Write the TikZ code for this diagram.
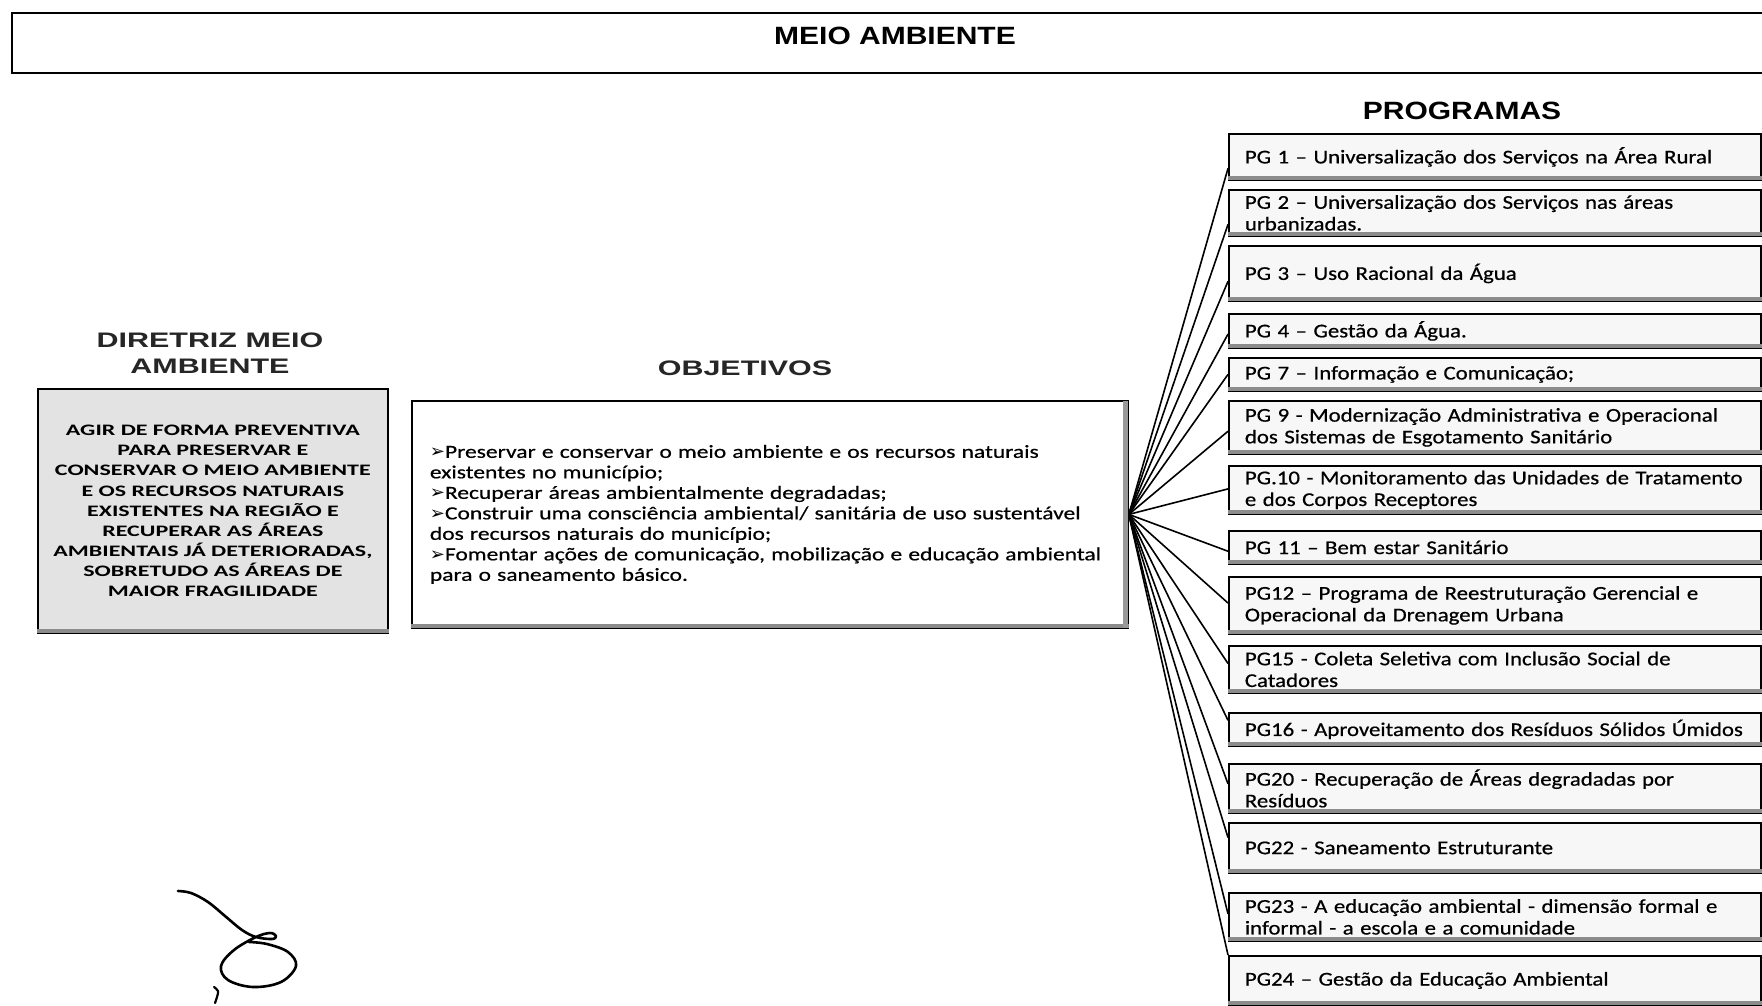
\documentclass[tikz,border=0pt]{standalone}
\usepackage{fontspec}
\usetikzlibrary{calc}
\setmainfont{Carlito}
\newfontfamily\pgfont[FakeStretch=1.17,FakeBold=0.6]{Carlito}
\newfontfamily\objfont[FakeStretch=1.27,FakeBold=0.6]{Carlito}
\newfontfamily\dirfont[FakeStretch=1.5]{Carlito}
\newfontfamily\headfont[FakeStretch=1.2]{Liberation Sans}
\newfontfamily\wideheadfont[FakeStretch=1.45]{Liberation Sans}
\newfontfamily\symfont{DejaVu Sans}
\newcommand{\bul}{{\symfont\fontsize{18pt}{18pt}\selectfont ➢}}
\begin{document}
\begin{tikzpicture}[x=1pt,y=-1pt,
  box/.style={draw=black, line width=1.8pt, rectangle, inner sep=0pt},
  pgbox/.style={box, fill=black!3, anchor=north west, text width=500pt, inner xsep=16pt, align=left,
    font=\pgfont\fontsize{19.5pt}{21.7pt}\selectfont},
  heading/.style={font=\headfont\bfseries\fontsize{25pt}{30pt}\selectfont},
  wideheading/.style={text=black!85, font=\wideheadfont\bfseries\fontsize{21pt}{26pt}\selectfont, align=center},
  conn/.style={draw=black, line width=1.6pt},
  shadowband/.style={draw=black!45, line width=4pt},
  sig/.style={draw=black, line width=2.6pt, line cap=round, line join=round}
]
\useasboundingbox (0,0) rectangle (1762,1005);
\fill[white] (0,0) rectangle (1762,1005);

% title
\node[box, anchor=north west, minimum width=1800pt, minimum height=60pt] (titlebox) at (11,12) {};
\node[heading] (titletext) at (895,36) {MEIO AMBIENTE};

% headings
\node[heading] (programas) at (1462,111) {PROGRAMAS};
\node[wideheading] (dirhead) at (210,353) {DIRETRIZ MEIO\\AMBIENTE};
\node[wideheading] (objhead) at (745,368) {OBJETIVOS};

% diretriz box
\node[box, fill=black!11, anchor=north west, minimum width=350pt, minimum height=244pt,
  text width=344pt, inner xsep=3pt, align=center,
  font=\dirfont\bfseries\fontsize{16pt}{20.1pt}\selectfont] (dir) at (37,388)
  {AGIR DE FORMA PREVENTIVA\\PARA PRESERVAR E\\CONSERVAR O MEIO AMBIENTE\\E OS RECURSOS NATURAIS\\EXISTENTES NA REGIÃO E\\RECUPERAR AS ÁREAS\\AMBIENTAIS JÁ DETERIORADAS,\\SOBRETUDO AS ÁREAS DE\\MAIOR FRAGILIDADE};
\draw[shadowband] ([yshift=2.5pt]dir.south west) -- ([yshift=2.5pt]dir.south east);

% objetivos box
\node[box, fill=white, anchor=north west, minimum width=715pt, minimum height=227pt,
  text width=680pt, inner xsep=18pt, align=left,
  font=\objfont\fontsize{18.5pt}{20.5pt}\selectfont] (obj) at (411,400)
  {\bul Preservar e conservar o meio ambiente e os recursos naturais\\
   existentes no município;\\
   \bul Recuperar áreas ambientalmente degradadas;\\
   \bul Construir uma consciência ambiental/ sanitária de uso sustentável\\
   dos recursos naturais do município;\\
   \bul Fomentar ações de comunicação, mobilização e educação ambiental\\
   para o saneamento básico.};
\draw[shadowband] ([yshift=2.5pt]obj.south west) -- ([yshift=2.5pt]obj.south east);
\draw[draw=black!40, line width=5pt] ([xshift=-3.5pt,yshift=-1pt]obj.north east) -- ([xshift=-3.5pt,yshift=1pt]obj.south east);

% programas boxes
\node[pgbox, minimum height=46pt] (pg1) at (1228,133) {PG 1 – Universalização dos Serviços na Área Rural};
\node[pgbox, minimum height=46pt] (pg2) at (1228,189) {PG 2 – Universalização dos Serviços nas áreas\\urbanizadas.};
\node[pgbox, minimum height=55pt] (pg3) at (1228,245) {PG 3 – Uso Racional da Água};
\node[pgbox, minimum height=34pt] (pg4) at (1228,313) {PG 4 – Gestão da Água.};
\node[pgbox, minimum height=33pt] (pg7) at (1228,357) {PG 7 – Informação e Comunicação;};
\node[pgbox, minimum height=53pt] (pg9) at (1228,400) {PG 9 - Modernização Administrativa e Operacional\\dos Sistemas de Esgotamento Sanitário};
\node[pgbox, minimum height=48pt] (pg10) at (1228,465) {PG.10 - Monitoramento das Unidades de Tratamento\\e dos Corpos Receptores};
\node[pgbox, minimum height=33pt] (pg11) at (1228,530) {PG 11 – Bem estar Sanitário};
\node[pgbox, minimum height=57pt] (pg12) at (1228,576) {PG12 – Programa de Reestruturação Gerencial e\\Operacional da Drenagem Urbana};
\node[pgbox, minimum height=47pt] (pg15) at (1228,645) {PG15 - Coleta Seletiva com Inclusão Social de\\Catadores};
\node[pgbox, minimum height=33pt] (pg16) at (1228,712) {PG16 - Aproveitamento dos Resíduos Sólidos Úmidos};
\node[pgbox, minimum height=49pt] (pg20) at (1228,763) {PG20 - Recuperação de Áreas degradadas por\\Resíduos};
\node[pgbox, minimum height=50pt] (pg22) at (1228,822) {PG22 - Saneamento Estruturante};
\node[pgbox, minimum height=48pt] (pg23) at (1228,892) {PG23 - A educação ambiental - dimensão formal e\\informal - a escola e a comunidade};
\node[pgbox, minimum height=49pt] (pg24) at (1228,955) {PG24 – Gestão da Educação Ambiental};

\foreach \n in {pg1,pg2,pg3,pg4,pg7,pg9,pg10,pg11,pg12,pg15,pg16,pg20,pg22,pg23,pg24}
  \draw[shadowband] ([yshift=2.5pt]\n.south west) -- ([yshift=2.5pt]\n.south east);

% connectors
\foreach \n/\f in {pg1/0.26, pg2/0.26, pg3/0.36, pg4/0.41, pg7/0.5, pg9/0.43, pg10/0.52, pg11/0.39,
                   pg12/0.54, pg15/0.62, pg16/0.76, pg20/0.59, pg22/0.7, pg23/0.56, pg24/1}
  \draw[conn] (obj.east) -- ($(\n.south west)!\f!(\n.north west)$);

% signature
\draw[sig] plot[smooth, tension=0.6] coordinates {(178,891) (191,893) (208,902) (225,916) (242,930) (256,937) (272,939) (276,936) (270,933) (256,937) (234,950) (221,966) (228,980) (253,987) (281,982) (296,966) (288,952) (267,944) (249,942)};
\draw[sig, line width=2.2pt] plot[smooth, tension=0.6] coordinates {(214,987) (218,991) (217,997) (215,1003)};
\end{tikzpicture}
\end{document}
